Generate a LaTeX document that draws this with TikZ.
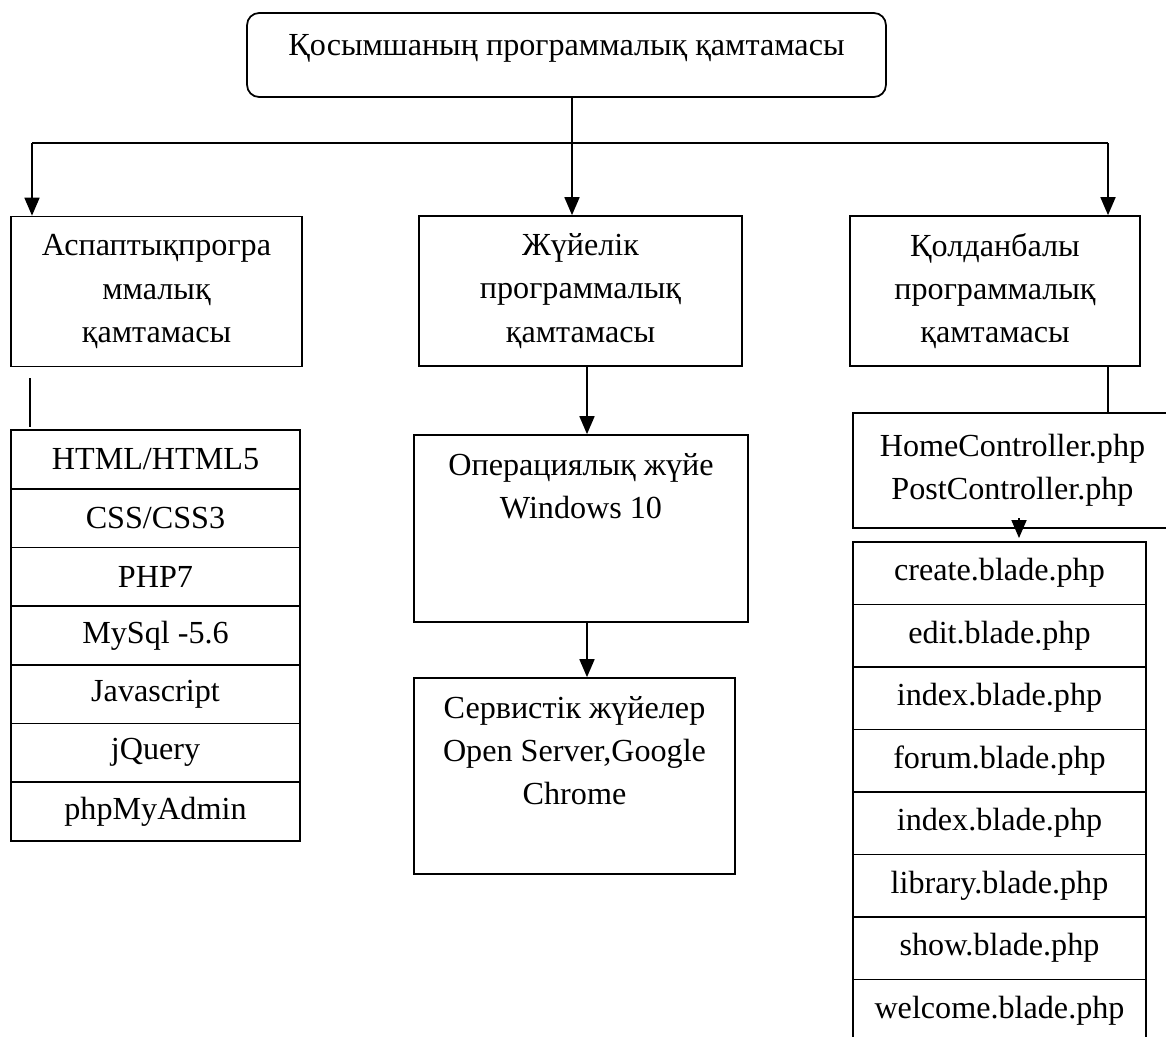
\documentclass[tikz,border=0pt]{standalone}
\usepackage{fontspec}
\setmainfont{Liberation Serif}
\usetikzlibrary{arrows.meta,positioning}

\begin{document}
\begin{tikzpicture}[
  x=0.02cm, y=-0.02cm,
  node distance=0cm,
  txt/.style={align=center, font={\fontsize{18.3}{24.6}\selectfont}},
  root/.style={rectangle, draw, line width=1pt, rounded corners=0.24cm,
               minimum width=12.78cm, minimum height=1.68cm,
               text height=0.4cm, text depth=0.4cm, txt},
  group/.style={rectangle, draw, line width=1pt, minimum height=3cm, txt},
  item/.style={rectangle, draw, line width=1pt, outer sep=0pt, txt},
  langitem/.style={item, minimum width=5.78cm, minimum height=1.174cm},
  viewitem/.style={item, minimum width=5.86cm, minimum height=1.25cm},
  link/.style={line width=1pt},
  arr/.style={-{Triangle[length=0.36cm, width=0.3cm]}, line width=1pt},
]
\useasboundingbox (0,0) rectangle (1166,1036);

% Top
\node[root] (root) at (566.5,55) {Қосымшаның программалық қамтамасы};

% Second level
\node[group, minimum width=5.82cm] (tool) at (156.5,291.5) {Аспаптықпрогра\\ммалық\\қамтамасы};
\node[group, minimum width=6.46cm] (sys) at (580.5,291) {Жүйелік\\программалық\\қамтамасы};
\node[group, minimum width=5.80cm] (app) at (995,291) {Қолданбалы\\программалық\\қамтамасы};

% Branches
\coordinate (split) at (572,143);
\coordinate (lt) at (32,143);
\coordinate (rt) at (1108,143);
\draw[link] (root.south -| split) -- (split);
\draw[link] (lt) -- (rt);
\draw[arr] (lt) -- (lt |- tool.north);
\draw[arr] (split) -- (split |- sys.north);
\draw[arr] (rt) -- (rt |- app.north);

% Left: tools list
\node[langitem] (html) at (155.5,459.35) {HTML/HTML5};
\node[langitem, below=of html] (css) {CSS/CSS3};
\node[langitem, below=of css] (php) {PHP7};
\node[langitem, below=of php] (mysql) {MySql -5.6};
\node[langitem, below=of mysql] (js) {Javascript};
\node[langitem, below=of js] (jquery) {jQuery};
\node[langitem, below=of jquery] (pma) {phpMyAdmin};

\coordinate (ls) at (30,378);
\draw[link] (ls) -- ([yshift=0.06cm]ls |- html.north);

% Middle: system software
\node[group, minimum width=6.68cm, minimum height=3.74cm] (os) at (581,528.5) {};
\node[txt, below=0.26cm of os.north] (ostext) {Операциялық жүйе\\Windows 10};
\node[group, minimum width=6.42cm, minimum height=3.92cm] (svc) at (574.5,776) {};
\node[txt, below=0.26cm of svc.north] (svctext) {Сервистік жүйелер\\Open Server,Google\\Chrome};

\coordinate (mx) at (587,0);
\draw[arr] (sys.south -| mx) -- (os.north -| mx);
\draw[arr] (os.south -| mx) -- (svc.north -| mx);

% Right: application files
\node[item, minimum width=6.38cm, minimum height=2.3cm] (ctrl) at (1012.5,470.5) {HomeController.php\\PostController.php};
\draw[link] (app.south -| rt) -- (ctrl.north -| rt);

\node[viewitem] (create) at (999.5,573.25) {create.blade.php};
\node[viewitem, below=of create] (edit) {edit.blade.php};
\node[viewitem, below=of edit] (index) {index.blade.php};
\node[viewitem, below=of index] (forum) {forum.blade.php};
\node[viewitem, below=of forum] (index2) {index.blade.php};
\node[viewitem, below=of index2] (library) {library.blade.php};
\node[viewitem, below=of library] (show) {show.blade.php};
\node[viewitem, below=of show] (welcome) {welcome.blade.php};

\coordinate (ca) at (1019,518);
\draw[arr, shorten >=0.08cm] (ca) -- (ca |- create.north);

\end{tikzpicture}
\end{document}
